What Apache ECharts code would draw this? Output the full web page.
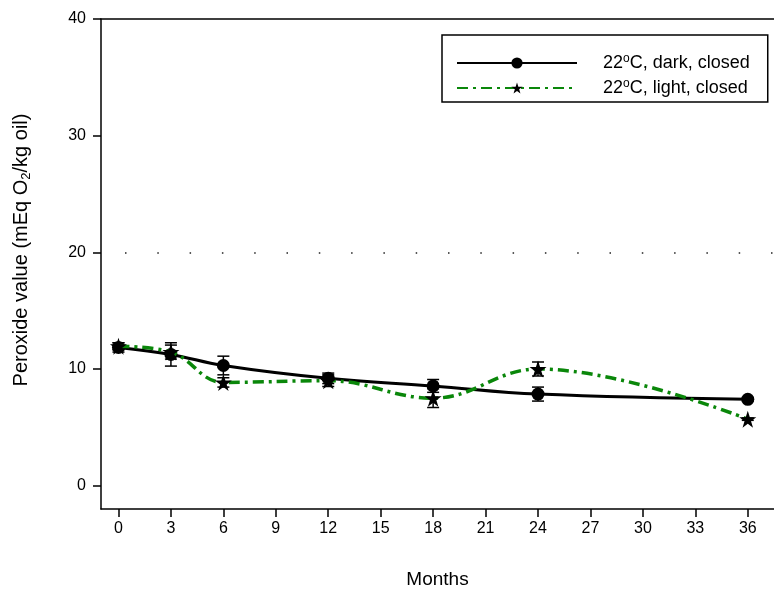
<!DOCTYPE html>
<html>
<head>
<meta charset="utf-8">
<script src="https://cdn.jsdelivr.net/npm/echarts@6/dist/echarts.min.js"></script>
<style>
html,body{margin:0;padding:0;background:#fff;}
#chart{width:774px;height:594px;}
</style>
</head>
<body>
<div id="chart"></div>
<script>
// ---- data ----
const months = [0, 3, 6, 12, 18, 24, 36];
const darkValues = [11.85, 11.25, 10.3, 9.2, 8.55, 7.85, 7.4];
const darkErrors = [0.4, 1.0, 0.8, 0.45, 0.55, 0.6, 0.15];
const lightValues = [11.95, 11.45, 8.85, 9.0, 7.5, 10.0, 5.7];
const lightErrors = [0.3, 0.6, 0.4, 0.5, 0.8, 0.6, 0.1];
const xTicks = [0, 3, 6, 9, 12, 15, 18, 21, 24, 27, 30, 33, 36];
const yTicks = [0, 10, 20, 30, 40];
const limitLine = 20;
const seriesNames = ['22°C, dark, closed', '22°C, light, closed'];
const legendLabels = ['{n|22}{sup|o}{n|C, dark, closed}', '{n|22}{sup|o}{n|C, light, closed}'];
const xTitle = 'Months';
const yTitle = '{n|Peroxide value (mEq O}{sub|2}{n|/kg oil)}';

const FONT = 'Liberation Sans, Arial, sans-serif';
const STAR = 'path://M50,0 L61.8,35.1 L98.9,35.1 L68.8,56.8 L80.2,91.9 L50,70.2 L19.8,91.9 L31.2,56.8 L1.1,35.1 L38.2,35.1 Z';

const pair = (xs, ys) => xs.map((x, i) => [x, ys[i]]);
const errData = (xs, ys, es) => xs.map((x, i) => [x, ys[i] - es[i], ys[i] + es[i]]);

function errRender(params, api) {
  const x = api.value(0);
  const lo = api.coord([x, api.value(1)]);
  const hi = api.coord([x, api.value(2)]);
  const hw = 6;
  const st = {stroke: '#000', lineWidth: 1.5};
  return {
    type: 'group',
    children: [
      {type: 'line', shape: {x1: lo[0], y1: lo[1], x2: hi[0], y2: hi[1]}, style: st},
      {type: 'line', shape: {x1: lo[0] - hw, y1: lo[1], x2: lo[0] + hw, y2: lo[1]}, style: st},
      {type: 'line', shape: {x1: hi[0] - hw, y1: hi[1], x2: hi[0] + hw, y2: hi[1]}, style: st}
    ]
  };
}

const chart = echarts.init(document.getElementById('chart'), null, {renderer: 'canvas'});
chart.setOption({
  animation: false,
  backgroundColor: '#fff',
  textStyle: {fontFamily: FONT, color: '#000'},
  grid: {left: 101, right: 0, top: 19, bottom: 84},
  graphic: [{
    type: 'text',
    x: 21, y: 250,
    rotation: Math.PI / 2,
    style: {
      text: yTitle,
      align: 'center', verticalAlign: 'middle',
      fill: '#000',
      rich: {
        n: {fontFamily: FONT, fontSize: 20, fill: '#000'},
        sub: {fontFamily: FONT, fontSize: 13, fill: '#000', padding: [10, 0, 0, 0]}
      }
    }
  }],
  legend: {
    left: 442, top: 35,
    orient: 'vertical',
    data: seriesNames,
    backgroundColor: '#fff',
    borderColor: '#000', borderWidth: 1.5, borderRadius: 0,
    padding: [18, 18, 5, 14],
    itemGap: 6,
    itemWidth: 120, itemHeight: 14,
    formatter: name => legendLabels[seriesNames.indexOf(name)],
    textStyle: {
      fontFamily: FONT, fontSize: 18, color: '#000', padding: [0, 0, 0, 21],
      rich: {
        n: {fontFamily: FONT, fontSize: 18, color: '#000', lineHeight: 20},
        sup: {fontFamily: FONT, fontSize: 12, color: '#000', verticalAlign: 'top', lineHeight: 20, padding: [0, 0, 7, 0]}
      }
    }
  },
  xAxis: [{
    type: 'value', min: -1, max: 37.5,
    name: xTitle, nameLocation: 'middle', nameGap: 61,
    nameTextStyle: {fontFamily: FONT, fontSize: 19, color: '#000'},
    axisLine: {show: true, onZero: false, lineStyle: {color: '#000', width: 1.5}},
    axisTick: {show: true, inside: false, length: 8, customValues: xTicks, lineStyle: {color: '#000', width: 1.5}},
    axisLabel: {customValues: xTicks, margin: 12, fontFamily: FONT, fontSize: 16, color: '#000'},
    splitLine: {show: false}
  }, {
    type: 'value', min: -1, max: 37.5, position: 'top',
    axisLine: {show: true, onZero: false, lineStyle: {color: '#000', width: 1.5}},
    axisTick: {show: false}, axisLabel: {show: false}, splitLine: {show: false}
  }],
  yAxis: {
    type: 'value', min: -2, max: 40,
    axisLine: {show: true, onZero: false, lineStyle: {color: '#000', width: 1.5}},
    axisTick: {show: true, inside: false, length: 8, customValues: yTicks, lineStyle: {color: '#000', width: 1.5}},
    axisLabel: {customValues: yTicks, margin: 15, fontFamily: FONT, fontSize: 16, color: '#000'},
    splitLine: {show: false}
  },
  series: [
    {
      name: seriesNames[0], type: 'line', smooth: 0.4,
      data: pair(months, darkValues),
      symbol: 'circle', symbolSize: 13,
      itemStyle: {color: '#000'},
      lineStyle: {color: '#000', width: 3},
      z: 3,
      markLine: {
        silent: true, symbol: 'none', label: {show: false},
        lineStyle: {color: '#222', width: 1.5, type: [1.5, 30.8], dashOffset: -24},
        data: [{yAxis: limitLine}]
      }
    },
    {
      name: seriesNames[1], type: 'line', smooth: 0.4,
      data: pair(months, lightValues),
      symbol: STAR, symbolSize: 17,
      itemStyle: {color: '#000'},
      lineStyle: {color: '#0a870a', width: 3.5, type: [11, 5, 3, 5]},
      z: 4
    },
    {
      type: 'custom', name: 'darkErr', renderItem: errRender,
      data: errData(months, darkValues, darkErrors), z: 5, silent: true
    },
    {
      type: 'custom', name: 'lightErr', renderItem: errRender,
      data: errData(months, lightValues, lightErrors), z: 5, silent: true
    }
  ]
});
</script>
</body>
</html>
